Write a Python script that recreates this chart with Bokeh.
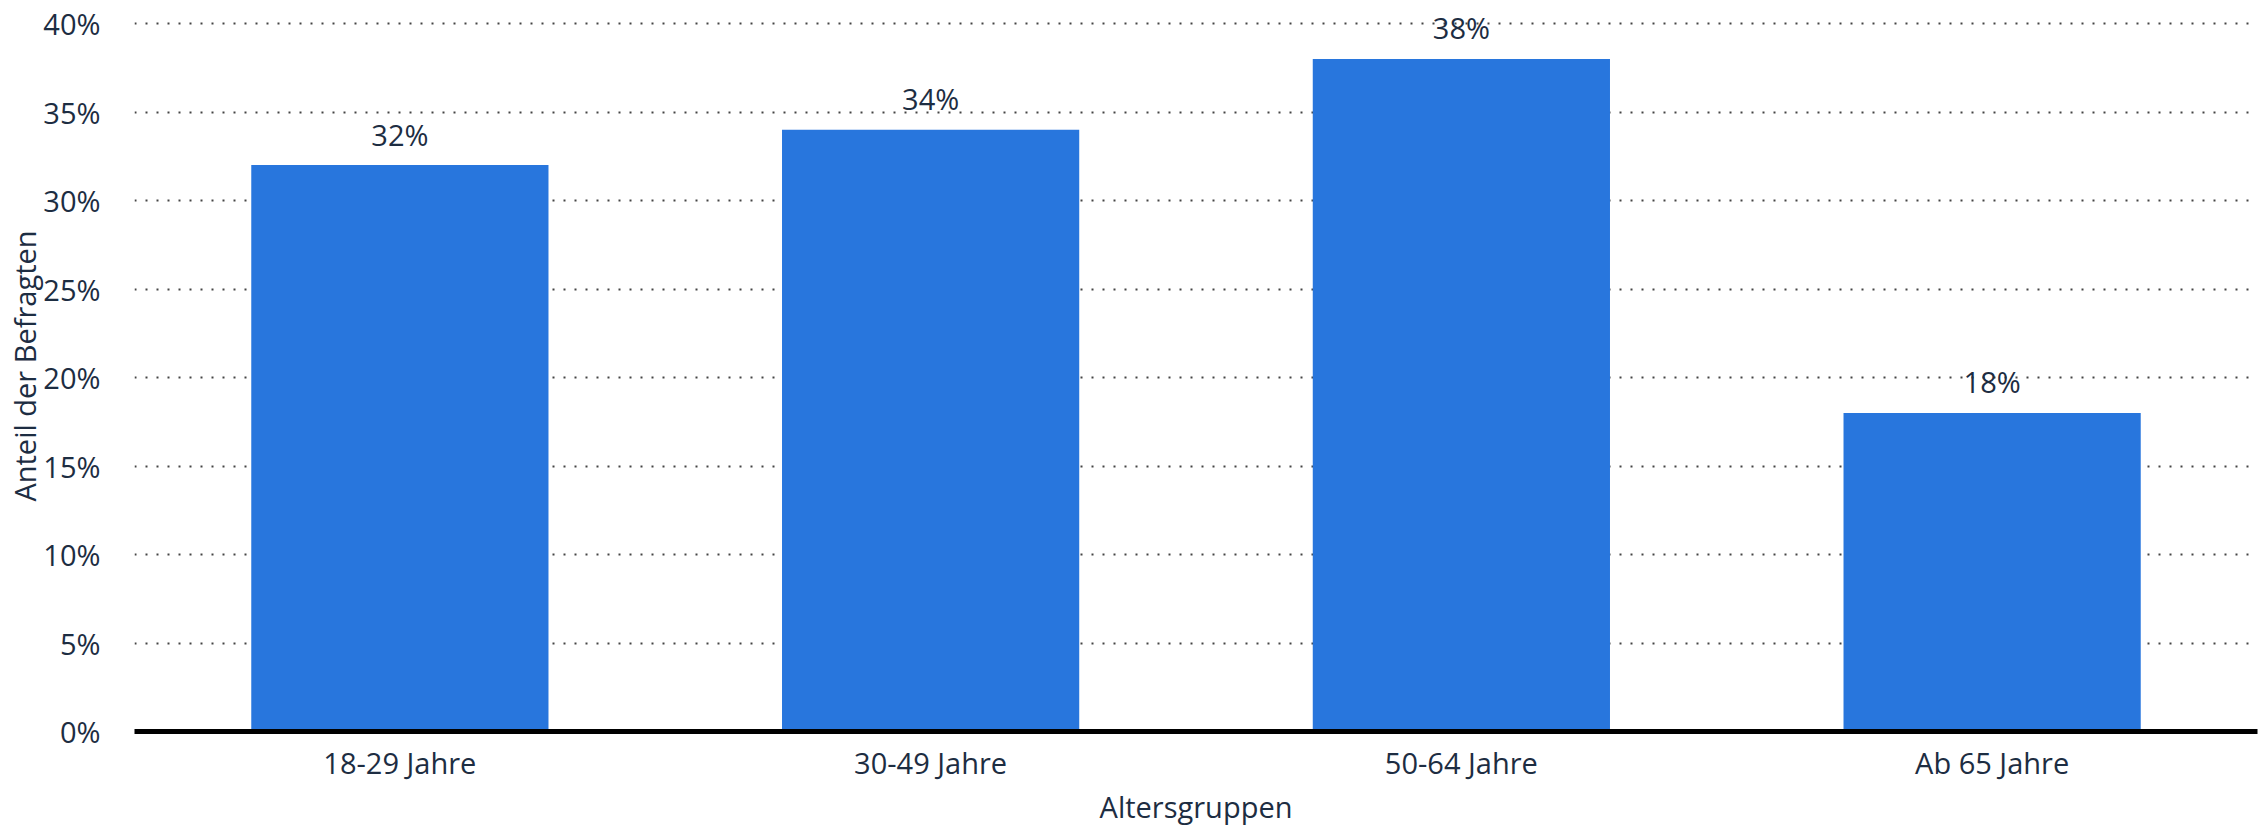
from bokeh.plotting import figure
from bokeh.models import (ColumnDataSource, FactorRange, Range1d, PrintfTickFormatter,
                          FixedTicker, LabelSet, Title)
from bokeh.core.properties import value
from bokeh.embed import file_html
from bokeh.resources import INLINE

categories = ["18-29 Jahre", "30-49 Jahre", "50-64 Jahre", "Ab 65 Jahre"]
shares = [32, 34, 38, 18]
y_ticks = [0, 5, 10, 15, 20, 25, 30, 35, 40]
x_title = "Altersgruppen"
y_title = "Anteil der Befragten"

FONT = "Open Sans"
FS = "29px"
TXT = "#1d2d42"
BLUE = "#2876dd"

src = ColumnDataSource(dict(cat=categories, val=shares,
                            lab=[f"{v}%" for v in shares]))

p = figure(x_range=FactorRange(*categories, range_padding=0),
           y_range=Range1d(0, 41.3),
           width=2258, height=825,
           output_backend="svg", toolbar_location=None,
           min_border_left=134, min_border_right=1,
           min_border_top=0, min_border_bottom=92)

p.vbar(x="cat", top="val", width=0.56, source=src, color=BLUE, line_color=None)
p.add_layout(LabelSet(x="cat", y="val", text="lab", source=src, text_align="center",
                      text_baseline="middle", y_offset=31, text_font=value(FONT),
                      text_font_size=value(FS), text_color=value(TXT)))

p.add_layout(Title(text=x_title, align="center", standoff=0, text_font=FONT,
                   text_font_size=FS, text_font_style="normal", text_color=TXT),
             "below")
p.add_layout(Title(text=y_title, align="center", standoff=-6, text_font=FONT,
                   text_font_size=FS, text_font_style="normal", text_color=TXT),
             "left")

p.outline_line_color = None
p.xgrid.grid_line_color = None
p.ygrid.grid_line_color = "#444444"
p.ygrid.grid_line_width = 2
p.ygrid.grid_line_dash = "2 9"
p.ygrid.ticker = FixedTicker(ticks=y_ticks)

p.yaxis.ticker = FixedTicker(ticks=y_ticks)
p.yaxis.formatter = PrintfTickFormatter(format="%d%%")
p.yaxis.axis_line_color = None
p.yaxis.major_tick_line_color = None
p.yaxis.minor_tick_line_color = None
p.yaxis.major_label_standoff = 28

p.xaxis.axis_line_color = "black"
p.xaxis.axis_line_width = 5
p.xaxis.major_tick_line_color = None
p.xaxis.minor_tick_line_color = None
p.xaxis.major_label_standoff = 5

for ax in (p.xaxis[0], p.yaxis[0]):
    ax.major_label_text_font = FONT
    ax.major_label_text_font_size = FS
    ax.major_label_text_color = TXT

open("out.html", "w").write(file_html(p, INLINE))
